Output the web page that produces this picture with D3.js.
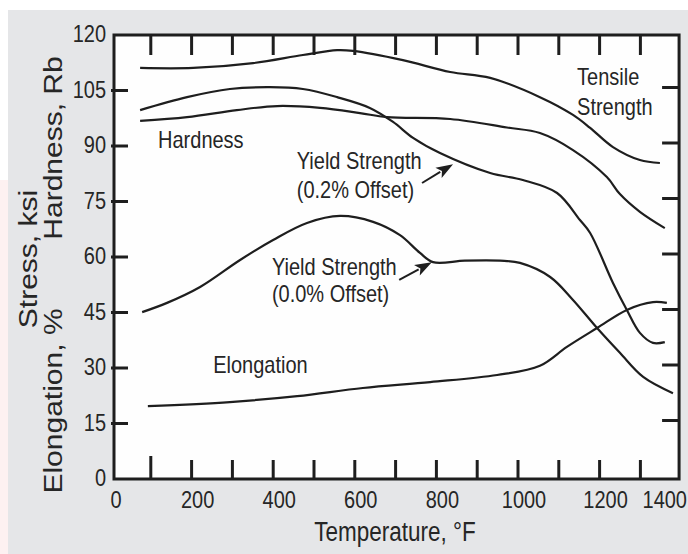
<!DOCTYPE html>
<html><head><meta charset="utf-8">
<script src="https://cdn.jsdelivr.net/npm/d3@7"></script>
<style>html,body{margin:0;padding:0;background:#fff;}svg{display:block;}</style>
</head><body>
<script>
// ---------- data (temperature °F / value) ----------
const tensileT  = [64,194,341,463,547,586,708,824,922,1044,1125,1167,1223,1289,1338];
const tensileV  = [111.1,111.1,112.4,114.6,115.9,115.7,113.2,110,108.4,103.2,98.4,94.9,89.7,86.2,85.4];
const yield02T  = [64,179,284,382,463,547,627,684,733,799,922,1002,1086,1142,1167,1223,1257,1289,1321,1350];
const yield02V  = [99.7,103.2,105.4,105.9,105.4,103.2,100.3,96.5,92.2,88.1,82.7,80.8,77.3,70,66.5,53,45.7,39.5,36.8,37];
const hardT     = [64,179,301,400,505,603,669,824,963,1044,1125,1208,1240,1289,1350];
const hardV     = [96.8,97.8,99.7,100.8,100.3,98.9,97.8,97.3,95.0,93.5,88.9,81.6,77.0,72.2,67.8];
const yield00T  = [69,130,211,309,390,473,554,635,701,750,782,860,946,995,1069,1125,1184,1240,1297,1370];
const yield00V  = [45.1,47.6,51.9,59.2,64.6,69.2,71.1,69.5,65.9,61.1,58.6,59.0,59.0,58.4,54.6,48.4,40.8,34.1,27.6,23.2];
const elongT    = [83,284,449,610,775,939,1044,1110,1184,1257,1321,1355];
const elongV    = [19.7,20.8,22.4,24.6,26.2,28.1,30.6,35.7,40.8,45.7,47.8,47.6];

const xTickLabels = [0,200,400,600,800,1000,1200,1400];
const xTickMarks  = [100,200,300,400,500,600,700,800,900,1000,1100,1200,1300];
const yTickLabels = [0,15,30,45,60,75,90,105,120];
const yTickMarks  = [15,30,45,60,75,90,105];
const xFrameMax = 1385;

// annotations anchored in data units [temp, value]
const labels = [
  {text:"Tensile", at:[1135,106.5]},
  {text:"Strength", at:[1135,98.5]},
  {text:"Hardness", at:[108,89.5]},
  {text:"Yield Strength", at:[448,83.8]},
  {text:"(0.2% Offset)", at:[448,75.9]},
  {text:"Yield Strength", at:[387,55.1]},
  {text:"(0.0% Offset)", at:[387,47.8]},
  {text:"Elongation", at:[243,28.6]}
];
const arrows = [
  {from:[755,80.0], to:[831,85.1]},
  {from:[699,53.8], to:[779,58.6]}
];

// ---------- drawing ----------
const W=688,H=554;
const svg = d3.select("body").append("svg").attr("width",W).attr("height",H);
const x = d3.scaleLinear().domain([0,1400]).range([114,685.2]);
const y = d3.scaleLinear().domain([0,120]).range([479,35]);
const FONT = '"Liberation Sans", Arial, Helvetica, sans-serif';
const INK = "#1e1e1e";

svg.append("rect").attr("x",0).attr("y",0).attr("width",W).attr("height",H).attr("fill","#ffffff");
svg.append("rect").attr("x",0).attr("y",180).attr("width",8).attr("height",H-180).attr("fill","#fdf1f1");
svg.append("rect").attr("x",8).attr("y",10).attr("width",W-8).attr("height",H-10).attr("fill","#e5e6e8");
svg.append("rect").attr("x",x(0)).attr("y",y(120)).attr("width",x(xFrameMax)-x(0)).attr("height",y(0)-y(120)).attr("fill","#fefefe");

function txt(px,py,str,size,anchor,rot){
  const g = svg.append("g").attr("transform",`translate(${px},${py}) scale(1,1.2)`+(rot?" rotate(-90)":""));
  g.append("text").attr("font-family",FONT).attr("font-size",size).attr("text-anchor",anchor)
    .attr("fill","#262626").text(str);
}

// curves
const series = [[tensileT,tensileV],[yield02T,yield02V],[hardT,hardV],[yield00T,yield00V],[elongT,elongV]];
const line = d3.line().x(d=>x(d[0])).y(d=>y(d[1])).curve(d3.curveCatmullRom.alpha(0.5));
series.forEach(([T,V])=>{
  svg.append("path").datum(T.map((t,i)=>[t,V[i]])).attr("d",line)
    .attr("fill","none").attr("stroke",INK).attr("stroke-width",2.2).attr("stroke-linejoin","round");
});

// ticks
const tk = svg.append("g").attr("stroke",INK).attr("stroke-width",3);
xTickMarks.forEach(v=>{
  tk.append("line").attr("x1",x(v)-4).attr("x2",x(v)-4).attr("y1",y(0)).attr("y2",y(0)-(v===100?23:19));
  tk.append("line").attr("x1",x(v)-4).attr("x2",x(v)-4).attr("y1",y(120)).attr("y2",y(120)+20);
});
yTickMarks.forEach(v=>{
  tk.append("line").attr("x1",x(0)-3).attr("x2",x(0)+14).attr("y1",y(v)).attr("y2",y(v));
  tk.append("line").attr("x1",x(xFrameMax)).attr("x2",x(xFrameMax)-17).attr("y1",y(v)-3).attr("y2",y(v)-3);
});
// frame
svg.append("rect").attr("x",x(0)).attr("y",y(120)).attr("width",x(xFrameMax)-x(0)).attr("height",y(0)-y(120))
  .attr("fill","none").attr("stroke",INK).attr("stroke-width",3);

// tick labels (last one kept inside the page edge)
xTickLabels.forEach((v,i)=>{
  if (i===xTickLabels.length-1) txt(W-1,y(0)+29,String(v),20,"end");
  else txt(x(v)+2,y(0)+29,String(v),20,"middle");
});
yTickLabels.forEach(v=>txt(x(0)-8,y(v)+7,String(v),20,"end"));

// axis titles
txt(395,541,"Temperature, °F",22.5,"middle");
txt(37,259,"Stress, ksi",25,"middle",true);
txt(62,401,"Elongation, %",25,"middle",true);
txt(62,148,"Hardness, Rb",25,"middle",true);

// annotations
labels.forEach(l=>txt(x(l.at[0]),y(l.at[1]),l.text,20,"start"));
arrows.forEach(a=>{
  const x1=x(a.from[0]),y1=y(a.from[1]),x2=x(a.to[0]),y2=y(a.to[1]);
  const dx=x2-x1,dy=y2-y1,len=Math.hypot(dx,dy),ux=dx/len,uy=dy/len;
  const hl=17,hw=6;
  const bx=x2-ux*hl,by=y2-uy*hl;
  svg.append("line").attr("x1",x1).attr("y1",y1).attr("x2",bx+ux*2).attr("y2",by+uy*2)
    .attr("stroke",INK).attr("stroke-width",2);
  svg.append("path").attr("d",`M${x2},${y2}L${bx-uy*hw},${by+ux*hw}L${bx+ux*4},${by+uy*4}L${bx+uy*hw},${by-ux*hw}Z`)
    .attr("fill",INK);
});
</script>
</body></html>
